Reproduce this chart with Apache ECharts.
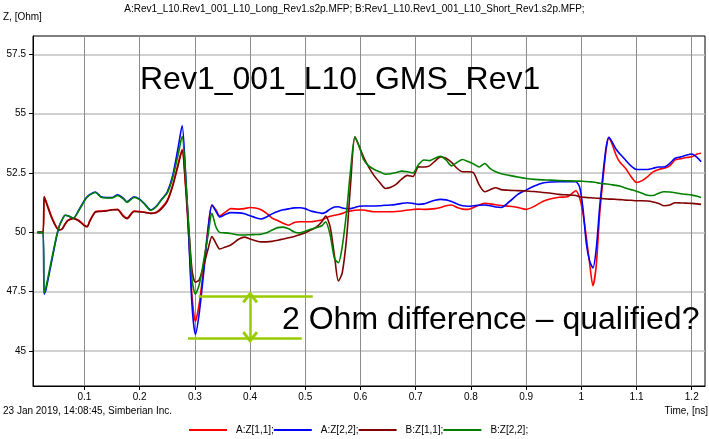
<!DOCTYPE html>
<html>
<head>
<meta charset="utf-8">
<script src="https://cdn.jsdelivr.net/npm/echarts@6/dist/echarts.min.js"></script>
<style>
  html, body { margin: 0; padding: 0; background: #ffffff; }
  #chart { width: 709px; height: 439px; }
</style>
</head>
<body>
<div id="chart"></div>
<script>
// Time axis samples, ns
const timeNs = [
  0.015, 0.025, 0.027, 0.03, 0.04, 0.05, 0.055, 0.06, 0.065, 0.07,
  0.08, 0.09, 0.10, 0.105, 0.11, 0.12, 0.13, 0.14, 0.15, 0.16,
  0.17, 0.177, 0.18, 0.19, 0.20, 0.21, 0.22, 0.23, 0.24, 0.25,
  0.26, 0.27, 0.277, 0.283, 0.289, 0.295, 0.301, 0.308, 0.316, 0.324,
  0.331, 0.338, 0.345, 0.355, 0.365, 0.38, 0.39, 0.40, 0.41, 0.42,
  0.43, 0.44, 0.45, 0.46, 0.47, 0.48, 0.49, 0.50, 0.51, 0.52,
  0.53, 0.537, 0.545, 0.553, 0.56, 0.567, 0.575, 0.582, 0.59, 0.598,
  0.606, 0.615, 0.625, 0.635, 0.645, 0.655, 0.665, 0.675, 0.685, 0.695,
  0.705, 0.715, 0.725, 0.735, 0.745, 0.755, 0.765, 0.775, 0.785, 0.795,
  0.805, 0.815, 0.825, 0.835, 0.845, 0.855, 0.87, 0.885, 0.90, 0.915,
  0.93, 0.945, 0.96, 0.975, 0.99, 0.997, 1.003, 1.009, 1.015, 1.021,
  1.027, 1.033, 1.039, 1.045, 1.05, 1.056, 1.063, 1.07, 1.08, 1.09,
  1.10, 1.11, 1.12, 1.13, 1.14, 1.15, 1.16, 1.17, 1.18, 1.19,
  1.20, 1.21, 1.217
];

// A:Z[1,1] (Long, port 1), Ohm
const zA11 = [
  50, 50, 51.5, 51.35, 50.7, 50.2, 50.1, 50.15, 50.35, 50.5,
  50.6, 50.5, 50.3, 50.24, 50.5, 50.87, 50.9, 50.92, 50.95, 50.97,
  50.72, 50.6, 50.65, 50.9, 50.88, 50.85, 50.8, 50.85, 51.05, 51.35,
  52.0, 52.9, 53.5, 52.0, 49.8, 47.3, 46.25, 47.0, 48.5, 50.2,
  51.15, 50.95, 50.7, 50.85, 51.0, 50.98, 51.0, 51.05, 51.03, 50.95,
  50.8, 50.6, 50.5, 50.38, 50.3, 50.42, 50.45, 50.45, 50.45, 50.48,
  50.52, 50.6, 50.68, 50.72, 50.75, 50.8, 50.87, 50.9, 50.93, 50.94,
  50.94, 50.9, 50.87, 50.87, 50.87, 50.87, 50.88, 50.9, 50.94, 50.96,
  50.98, 50.97, 50.98, 51.0, 51.05, 51.12, 51.15, 51.05, 50.98, 50.97,
  51.05, 51.15, 51.22, 51.2, 51.16, 51.13, 51.1, 51.05, 50.97, 51.1,
  51.3, 51.42, 51.48, 51.5, 51.75, 51.45, 50.8, 49.8, 48.7, 47.75,
  48.6, 50.7, 52.2, 53.5, 54.0, 53.7, 53.25, 52.95, 52.7, 52.35,
  52.1, 52.18, 52.35, 52.55, 52.65, 52.7, 52.8, 53.05, 53.1, 53.15,
  53.18, 53.3, 53.33
];

// A:Z[2,2] (Long, port 2), Ohm
const zA22 = [
  50, 50, 47.4, 47.55, 48.7, 49.85, 50.3, 50.55, 50.72, 50.7,
  50.6, 50.95, 51.35, 51.5, 51.6, 51.7, 51.5, 51.47, 51.47, 51.58,
  51.45, 51.29, 51.33, 51.5, 51.4, 51.18, 50.95, 51.1, 51.4, 51.7,
  52.4, 53.6, 54.5, 52.6, 49.8, 46.9, 45.7, 46.6, 48.3, 50.1,
  51.15, 50.9, 50.65, 50.75, 50.83, 50.82, 50.78, 50.7, 50.62, 50.56,
  50.65, 50.78, 50.88, 50.95, 50.99, 51.03, 51.04, 51.0, 50.9, 50.85,
  50.8, 50.85, 50.98, 51.07, 51.08, 51.03, 51.0, 51.0, 51.05, 51.1,
  51.11, 51.11, 51.11, 51.12, 51.14, 51.15, 51.18, 51.22, 51.25, 51.22,
  51.18, 51.2, 51.28, 51.35, 51.39, 51.37, 51.3, 51.2, 51.12, 51.1,
  51.12, 51.14, 51.15, 51.12, 51.07, 51.05, 51.3, 51.6, 51.78, 51.95,
  52.08, 52.12, 52.13, 52.13, 52.13, 51.9, 51.0, 49.55, 48.8, 48.5,
  49.3, 51.0, 52.4, 53.6, 54.0, 53.8, 53.5, 53.3, 53.05, 52.8,
  52.65, 52.65, 52.65, 52.7, 52.75, 52.75, 52.9, 53.12, 53.18, 53.25,
  53.3, 53.15, 52.97
];

// B:Z[1,1] (Short, port 1), Ohm
const zB11 = [
  50, 50, 51.5, 51.3, 50.65, 50.18, 50.1, 50.15, 50.35, 50.5,
  50.58, 50.48, 50.28, 50.24, 50.48, 50.85, 50.88, 50.9, 50.95, 50.95,
  50.68, 50.58, 50.62, 50.88, 50.86, 50.84, 50.8, 50.83, 51.0, 51.3,
  51.95, 52.85, 53.45, 52.1, 50.2, 48.4, 47.9, 48.0, 48.6, 49.3,
  49.82, 49.55, 49.3, 49.38, 49.47, 49.72, 49.8, 49.72, 49.65, 49.6,
  49.6, 49.62, 49.67, 49.72, 49.77, 49.83, 49.9, 49.98, 50.1, 50.22,
  50.45, 50.69, 50.24, 49.0, 47.95, 48.3, 49.8, 52.0, 54.03, 53.6,
  53.15, 52.75, 52.38, 52.1, 51.85, 51.9, 52.03, 52.25, 52.4, 52.35,
  52.76, 52.75, 52.8, 53.0, 53.18, 53.12, 52.95, 52.7, 52.55, 52.55,
  52.5, 52.0, 51.71, 51.8, 51.88, 51.8, 51.77, 51.76, 51.74, 51.72,
  51.68, 51.65, 51.6, 51.58, 51.55, 51.5, 51.48, 51.47, 51.46, 51.45,
  51.44, 51.43, 51.42, 51.41, 51.4, 51.4, 51.39, 51.38, 51.36, 51.35,
  51.33, 51.33, 51.32, 51.28, 51.22, 51.12, 51.15, 51.25, 51.24, 51.23,
  51.22, 51.2, 51.18
];

// B:Z[2,2] (Short, port 2), Ohm
const zB22 = [
  50, 50, 47.45, 47.65, 48.8, 49.9, 50.3, 50.55, 50.72, 50.7,
  50.6, 50.92, 51.32, 51.48, 51.58, 51.68, 51.48, 51.45, 51.45, 51.55,
  51.42, 51.27, 51.3, 51.47, 51.38, 51.16, 50.93, 51.08, 51.38, 51.65,
  52.3, 53.3, 54.05, 52.5, 50.2, 48.0, 47.4, 47.8, 48.8, 49.9,
  50.8, 50.25, 50.0, 49.98, 49.95, 49.89, 49.89, 49.9, 49.91, 49.92,
  49.98, 50.1, 50.2, 50.22, 50.15, 50.02, 49.98, 50.05, 50.13, 50.2,
  50.28, 50.45, 49.9, 48.9, 48.72, 49.4, 50.9, 52.6, 54.03, 53.6,
  53.05, 52.8, 52.65, 52.55, 52.45, 52.47, 52.52, 52.58, 52.55, 52.5,
  52.85, 53.05, 53.02, 53.12, 53.2, 53.05, 52.8, 52.95, 53.07, 52.98,
  52.88, 52.75, 52.9, 52.68, 52.55, 52.47, 52.4, 52.33, 52.27, 52.23,
  52.21, 52.2, 52.18, 52.17, 52.16, 52.16, 52.15, 52.14, 52.13, 52.12,
  52.1, 52.07, 52.05, 52.04, 52.03, 52.0, 51.98, 51.95, 51.87, 51.8,
  51.73, 51.65, 51.56, 51.55, 51.65, 51.71, 51.7, 51.67, 51.63, 51.6,
  51.57, 51.52, 51.47
];

// Axis tick values
const timeTicks = [0.1, 0.2, 0.3, 0.4, 0.5, 0.6, 0.7, 0.8, 0.9, 1, 1.1, 1.2];
const ohmTicks = [45, 47.5, 50, 52.5, 55, 57.5];

// Annotation: the 2 Ohm spread at the first dip
const spreadTop = 47.32;
const spreadBottom = 45.53;

const seriesNames = ['A:Z[1,1];', 'A:Z[2,2];', 'B:Z[1,1];', 'B:Z[2,2];'];
const seriesColors = ['#ff0000', '#0000ff', '#800000', '#008000'];
const seriesValues = [zA11, zA22, zB11, zB22];

const FONT = "'Liberation Sans', Arial, sans-serif";
const NOTE = '#99cc00';
const chevron = 'path://M0,12 L10,0 L20,12 L17,14 L10,5.5 L3,14 Z';

const chart = echarts.init(document.getElementById('chart'), null, { renderer: 'canvas' });

const lineSeries = seriesValues.map((vals, i) => ({
  name: seriesNames[i],
  type: 'line',
  data: timeNs.map((t, k) => [t, vals[k]]),
  showSymbol: false,
  symbol: 'none',
  smooth: 0.25,
  lineStyle: { color: seriesColors[i], width: 1.6 },
  itemStyle: { color: seriesColors[i] },
  silent: true,
  z: 3 + i
}));

lineSeries.push({
  name: 'spread',
  type: 'line',
  data: [],
  silent: true,
  z: 10,
  markLine: {
    silent: true,
    animation: false,
    label: { show: false },
    emphasis: { disabled: true },
    symbol: ['none', 'none'],
    lineStyle: { color: NOTE, width: 2.5, type: 'solid' },
    data: [
      [{ coord: [0.3067, spreadTop] }, { coord: [0.5136, spreadTop] }],
      [{ coord: [0.2875, spreadBottom] }, { coord: [0.4937, spreadBottom] }],
      [
        { coord: [0.4002, spreadTop - 0.05], symbol: chevron, symbolSize: [16, 12], symbolOffset: [0, 0] },
        { coord: [0.4002, spreadBottom + 0.05], symbol: chevron, symbolSize: [16, 12], symbolOffset: [0, 0] }
      ]
    ]
  }
});

const option = {
  animation: false,
  backgroundColor: '#ffffff',
  textStyle: { fontFamily: FONT },
  grid: {
    left: 33, right: 4, top: 36, bottom: 53,
    show: true, borderColor: '#000000', borderWidth: 1, backgroundColor: 'transparent'
  },
  legend: {
    data: seriesNames.map((n, i) => ({ name: n, icon: 'rect', itemStyle: { color: seriesColors[i] } })),
    left: 184, top: 420,
    itemWidth: 38, itemHeight: 2, itemGap: 0,
    textStyle: { fontSize: 10, color: '#000000', fontFamily: FONT, padding: [0, 0, 0, 4] },
    selectedMode: false
  },
  xAxis: {
    type: 'value',
    min: 0.0069, max: 1.224,
    axisLine: { show: true, lineStyle: { color: '#000000', width: 1 } },
    axisTick: { show: true, customValues: timeTicks, length: 4, lineStyle: { color: '#000000' } },
    axisLabel: { customValues: timeTicks, color: '#000000', fontSize: 10, margin: 6, fontFamily: FONT },
    splitLine: { show: true, lineStyle: { color: '#8c8c8c', width: 1 } }
  },
  yAxis: {
    type: 'value',
    min: 43.53, max: 58.27,
    axisLine: { show: true, lineStyle: { color: '#000000', width: 1 } },
    axisTick: { show: true, customValues: ohmTicks, length: 4, lineStyle: { color: '#000000' } },
    axisLabel: { customValues: ohmTicks, color: '#000000', fontSize: 10, margin: 7, fontFamily: FONT },
    splitLine: { show: true, lineStyle: { color: '#c0c0c0', width: 1.5 } }
  },
  graphic: [
    { type: 'text', left: 'center', top: 4, style: { text: 'A:Rev1_L10.Rev1_001_L10_Long_Rev1.s2p.MFP; B:Rev1_L10.Rev1_001_L10_Short_Rev1.s2p.MFP;', font: '10px ' + FONT, fill: '#000000' } },
    { type: 'text', left: 3, top: 12, style: { text: 'Z, [Ohm]', font: '10px ' + FONT, fill: '#000000' } },
    { type: 'text', left: 3, top: 406, style: { text: '23 Jan 2019, 14:08:45, Simberian Inc.', font: '10px ' + FONT, fill: '#000000' } },
    { type: 'text', right: 1, top: 406, style: { text: 'Time, [ns]', font: '10px ' + FONT, fill: '#000000' } },
    { type: 'text', x: 140, y: 80, z: 20, style: { text: 'Rev1_001_L10_GMS_Rev1', font: '32px ' + FONT, fill: '#000000', textVerticalAlign: 'middle' } },
    { type: 'text', x: 282, y: 320, z: 20, style: { text: '2 Ohm difference \u2013 qualified?', font: '32px ' + FONT, fill: '#000000', textVerticalAlign: 'middle' } }
  ],
  series: lineSeries
};

chart.setOption(option);
</script>
</body>
</html>
